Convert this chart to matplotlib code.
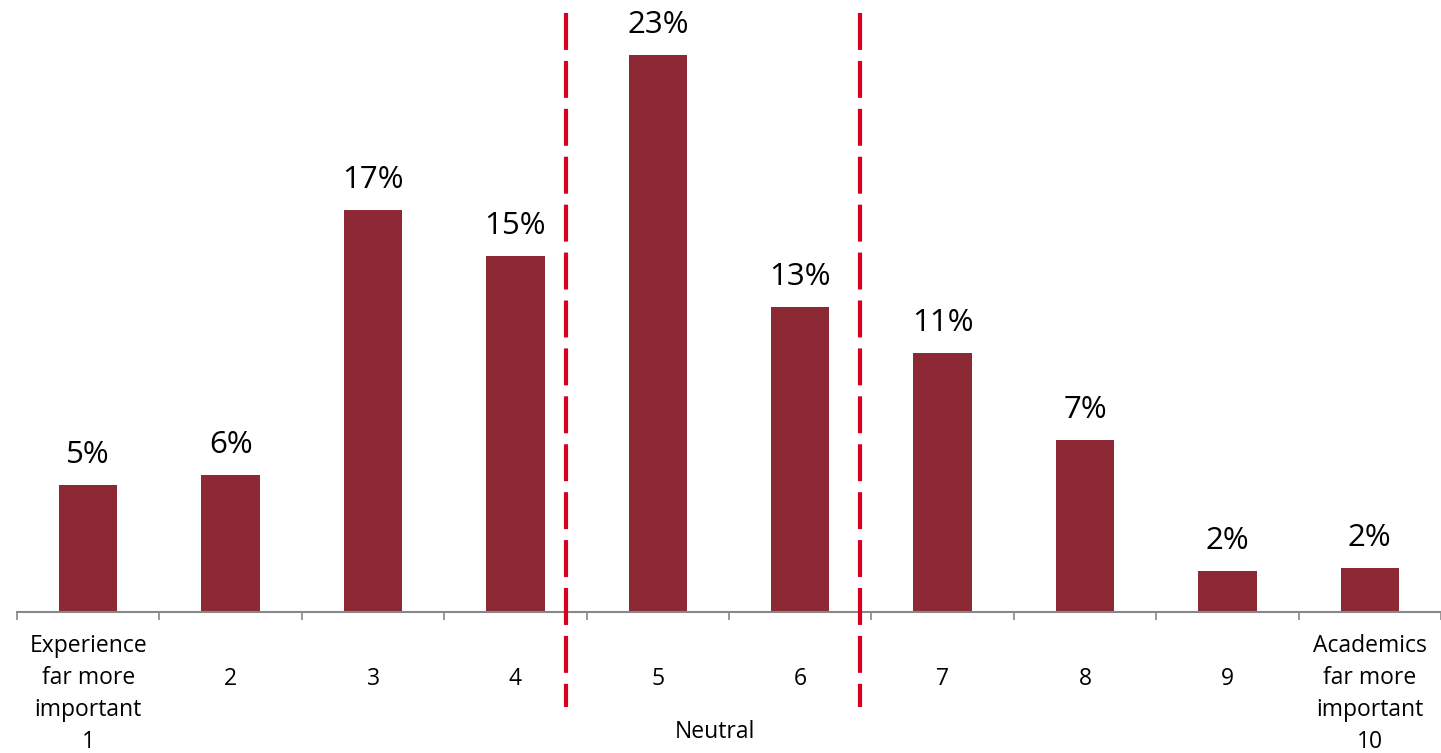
import matplotlib
matplotlib.use('Agg')
import matplotlib.pyplot as plt
import matplotlib.transforms as mtransforms

plt.rcParams['font.family'] = ['Open Sans', 'DejaVu Sans']
plt.rcParams['lines.scale_dashes'] = False

categories = ['Experience\nfar more\nimportant\n1', '2', '3', '4', '5', '6', '7', '8', '9',
              'Academics\nfar more\nimportant\n10']
values = [5.25, 5.66, 16.6, 14.7, 23.0, 12.6, 10.7, 7.1, 1.7, 1.8]
neutral_label = 'Neutral'

bar_color = '#8C2934'
red = '#D8001F'

fig = plt.figure(figsize=(14.41, 7.53), dpi=100)
ax = fig.add_axes([17 / 1441, (753 - 612) / 753, 1 - 17 / 1441, 605 / 753])

x = list(range(len(values)))
ax.bar(x, values, width=0.41, color=bar_color, zorder=2)

for xi, v in zip(x, values):
    ax.annotate(f'{v:.0f}%', xy=(xi, v), xytext=(0, 16), textcoords='offset points',
                ha='center', va='baseline', fontsize=22.5)

ax.set_xlim(-0.5, 9.5)
ax.set_ylim(0, 25)

# ticks sit between the categories
ax.set_xticks([i - 0.5 for i in range(len(values) + 1)])
ax.set_xticklabels([])
ax.tick_params(axis='x', which='major', length=6, width=1.2, color='#888888', direction='out')
ax.set_yticks([])

trans = mtransforms.blended_transform_factory(ax.transData, ax.transAxes)

# category labels: long ones start right under the axis, short ones sit lower
for xi, lab in zip(x, categories):
    if '\n' in lab:
        ax.text(xi, (612 - 634) / 605, lab, transform=trans, ha='center', va='top',
                fontsize=16.5, linespacing=1.45)
    else:
        ax.text(xi, (612 - 679) / 605, lab, transform=trans, ha='center', va='center',
                fontsize=16.5)

for s in ['top', 'right', 'left']:
    ax.spines[s].set_visible(False)
ax.spines['bottom'].set_color('#888888')
ax.spines['bottom'].set_linewidth(1.5)

# neutral band markers
y_top = (612 - 13) / 605
y_bot = (612 - 707) / 605
for xl in [3.355, 5.42]:
    ax.plot([xl, xl], [y_top, y_bot], transform=trans, color=red, lw=3,
            linestyle=(0, (26.6, 7.9)), clip_on=False, zorder=3)

ax.text(4.4, (612 - 732) / 605, neutral_label, transform=trans,
        ha='center', va='center', fontsize=16.5)

fig.savefig('out.png', dpi=100)
